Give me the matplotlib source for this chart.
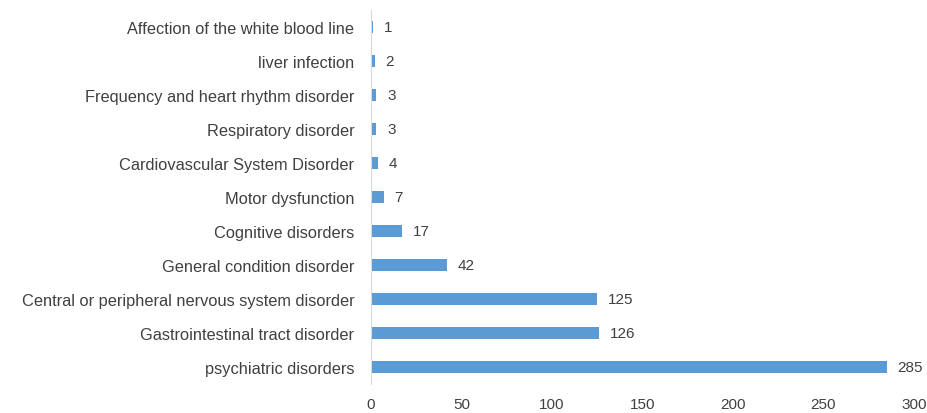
import matplotlib
matplotlib.use('Agg')
import matplotlib.pyplot as plt

categories = ['psychiatric disorders', 'Gastrointestinal tract disorder',
              'Central or peripheral nervous system disorder', 'General condition disorder',
              'Cognitive disorders', 'Motor dysfunction', 'Cardiovascular System Disorder',
              'Respiratory disorder', 'Frequency and heart rhythm disorder',
              'liver infection', 'Affection of the white blood line']
counts = [285, 126, 125, 42, 17, 7, 4, 3, 3, 2, 1]
xticks = [0, 50, 100, 150, 200, 250, 300]

plt.rcParams['font.family'] = ['Liberation Sans', 'DejaVu Sans']

fig = plt.figure(figsize=(9.28, 4.14), dpi=100)
ax = fig.add_axes([0.3998, 0.070, 0.585, 0.903])

y = range(len(categories))
ax.barh(y, counts, height=0.36, color='#5B9BD5')
for i, v in enumerate(counts):
    ax.text(v + 6, i, str(v), va='center', ha='left', fontsize=11, color='#404040')

ax.set_xlim(0, 300)
ax.set_ylim(-0.5, len(categories) - 0.5)
ax.set_xticks(xticks)
ax.set_yticks(list(y))
ax.set_yticklabels(categories)
ax.tick_params(axis='both', length=0, labelsize=11, colors='#404040')
ax.tick_params(axis='y', pad=12, labelsize=11.8)
ax.tick_params(axis='x', pad=9)
for s in ['top', 'right', 'bottom']:
    ax.spines[s].set_visible(False)
ax.spines['left'].set_color('#D9D9D9')

fig.savefig('out.png', dpi=100)
